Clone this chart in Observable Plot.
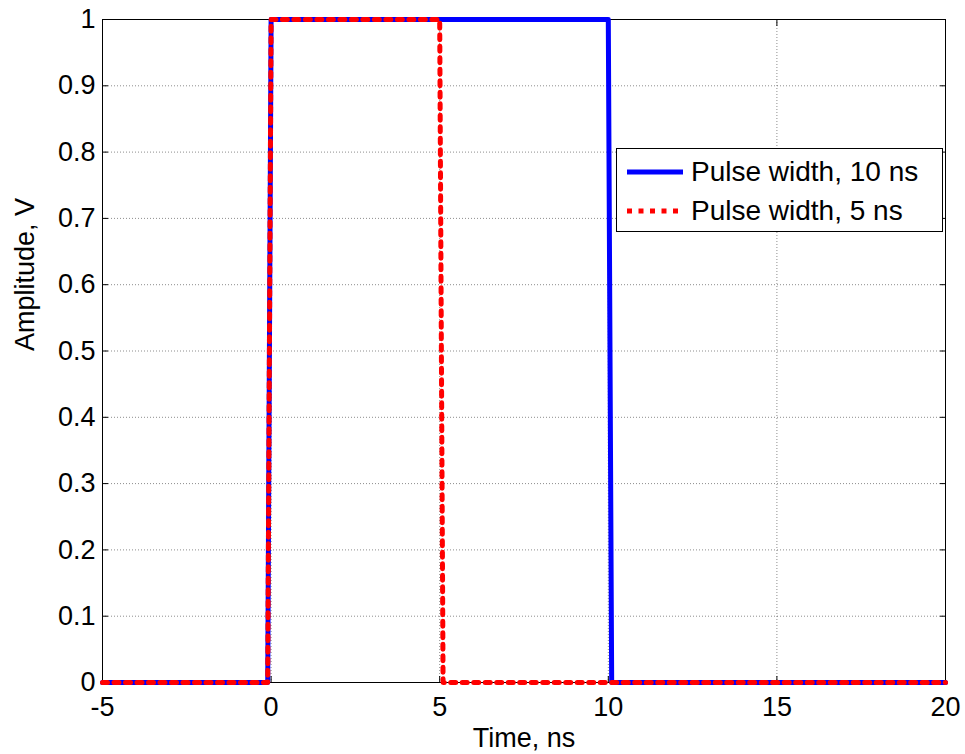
<!DOCTYPE html>
<html><head><meta charset="utf-8">
<script src="https://cdn.jsdelivr.net/npm/d3@7"></script>
<script src="https://cdn.jsdelivr.net/npm/@observablehq/plot@0.6"></script>
<style>
body{margin:0;background:#fff;font-family:"Liberation Sans",Arial,sans-serif;}
#wrap{position:relative;width:965px;height:754px;}
#legend{position:absolute;left:616px;top:148px;width:327px;height:84px;border:1px solid #000;background:#fff;box-sizing:border-box;font-size:28px;}
.row{position:absolute;left:10px;display:flex;align-items:center;height:34px;line-height:34px;}
.row svg{margin-right:8px;}
</style>
</head><body>
<div id="wrap"></div>
<script>
const seriesNames = ["Pulse width, 10 ns", "Pulse width, 5 ns"];
const time10 = [-5, -0.1, 0, 10, 10.1, 20];
const amp10  = [0, 0, 1, 1, 0, 0];
const time5  = [-5, -0.1, 0, 5, 5.1, 20];
const amp5   = [0, 0, 1, 1, 0, 0];
const xTicks = [-5, 0, 5, 10, 15, 20];
const xTickLabels = ["-5","0","5","10","15","20"];
const yTicks = [0, 0.1, 0.2, 0.3, 0.4, 0.5, 0.6, 0.7, 0.8, 0.9, 1];
const yTickLabels = ["0","0.1","0.2","0.3","0.4","0.5","0.6","0.7","0.8","0.9","1"];

const d10 = time10.map((t,i)=>({t, a: amp10[i]}));
const d5 = time5.map((t,i)=>({t, a: amp5[i]}));
const FS = 27;

const chart = Plot.plot({
  width: 965, height: 754,
  marginLeft: 102, marginRight: 20, marginTop: 19, marginBottom: 72,
  style: {fontFamily: '"Liberation Sans", Arial, sans-serif', fontSize: FS + "px", color: "#000", background: "#fff", overflow: "visible"},
  x: {domain: [-5, 20]},
  y: {domain: [0, 1]},
  marks: [
    Plot.gridX(xTicks, {stroke: "#000", strokeOpacity: 0.45, strokeDasharray: "1,2"}),
    Plot.gridY(yTicks, {stroke: "#000", strokeOpacity: 0.45, strokeDasharray: "1,2"}),
    Plot.axisX(xTicks, {anchor: "bottom", tickSize: -6, tickPadding: 20, fontSize: FS, label: null, tickFormat: (d)=>xTickLabels[xTicks.indexOf(d)]}),
    Plot.axisX(xTicks, {anchor: "top", tickSize: -6, text: null, label: null}),
    Plot.axisY(yTicks, {anchor: "left", tickSize: -6, tickPadding: 13, fontSize: FS, label: null, tickFormat: (d)=>yTickLabels[yTicks.indexOf(d)]}),
    Plot.axisY(yTicks, {anchor: "right", tickSize: -6, text: null, label: null}),
    Plot.frame({stroke: "#000", strokeWidth: 1}),
    Plot.line(d10, {x: "t", y: "a", stroke: "#0000ff", strokeWidth: 5, curve: "linear"}),
    Plot.line(d5, {x: "t", y: "a", stroke: "#ff0000", strokeWidth: 5, strokeDasharray: "5,6.5", curve: "linear"}),
    Plot.text(["Time, ns"], {frameAnchor: "bottom", lineAnchor: "top", dy: 45, fontSize: FS, fill: "#000"}),
    Plot.text(["Amplitude, V"], {frameAnchor: "left", dx: -77, rotate: -90, fontSize: FS, fill: "#000"})
  ]
});
const wrap = document.getElementById("wrap");
wrap.appendChild(chart);
const lg = document.createElement("div");
lg.id = "legend";
const styles = [{c:"#0000ff", dash:""}, {c:"#ff0000", dash:"5,6.5"}];
lg.innerHTML = seriesNames.map((n,i)=>`<div class="row" style="top:${6+i*39}px"><svg width="56" height="10"><line x1="0" x2="56" y1="5" y2="5" stroke="${styles[i].c}" stroke-width="5" stroke-dasharray="${styles[i].dash}"/></svg><span>${n}</span></div>`).join("");
wrap.appendChild(lg);
</script>
</body></html>
